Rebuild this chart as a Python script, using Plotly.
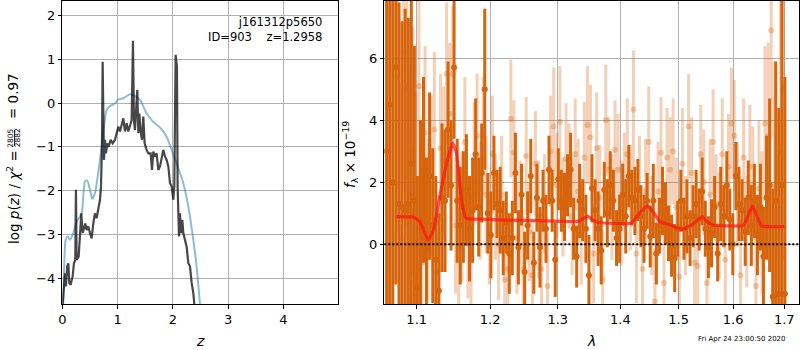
import plotly.graph_objects as go

# ---------------- Left panel: log p(z) ----------------
pz_z_dark = [0.0, 0.006, 0.030, 0.048, 0.066, 0.090, 0.109, 0.127, 0.151, 0.187, 0.211, 0.235, 0.247, 0.259,
             0.296, 0.320, 0.344, 0.368, 0.392, 0.416, 0.440, 0.471, 0.501, 0.531, 0.561, 0.591, 0.621, 0.652,
             0.682, 0.700, 0.718, 0.730, 0.742, 0.754, 0.772, 0.790, 0.814, 0.839, 0.875, 0.911, 0.953, 0.983,
             1.014, 1.044, 1.074, 1.104, 1.134, 1.164, 1.195, 1.225, 1.255, 1.279, 1.297, 1.315, 1.333, 1.357,
             1.376, 1.394, 1.418, 1.442, 1.466, 1.490, 1.526, 1.557, 1.599, 1.623, 1.647, 1.677, 1.707, 1.738,
             1.768, 1.798, 1.828, 1.858, 1.888, 1.919, 1.949, 1.979, 2.009, 2.027, 2.051, 2.075, 2.087, 2.112,
             2.130, 2.148, 2.172, 2.190, 2.220, 2.250, 2.281, 2.311, 2.341, 2.371, 2.389, 2.42]
pz_dark = [-5.0, -4.59, -4.19, -3.89, -4.19, -3.73, -3.66, -4.11, -4.15, -3.96, -3.66, -3.58, -1.98, -3.58,
           -3.51, -2.97, -2.52, -2.97, -2.82, -2.75, -2.90, -2.82, -2.97, -3.09, -2.75, -2.52, -2.63, -2.44,
           -2.21, -1.91, -1.00, 0.94, -0.77, -1.30, -0.84, -1.15, -0.92, -1.00, -0.84, -0.92, -0.84, -0.69,
           -0.54, -0.65, -0.46, -0.35, -0.65, -0.46, -0.65, -0.54, -0.39, 1.42, -0.39, -0.62, -0.16, 0.30,
           -0.69, -0.24, -0.65, -0.84, -0.31, -0.92, -1.07, -1.15, -1.15, -1.53, -1.11, -1.22, -1.15, -1.53,
           -1.45, -1.22, -1.07, -1.22, -1.30, -1.45, -1.83, -1.91, -2.21, -1.91, 1.10, 0.83, -1.91, -3.05,
           -2.52, -2.97, -2.67, -2.97, -3.13, -3.28, -3.66, -3.73, -4.11, -4.34, -4.59, -5.2]

pz_z_blue = [0.0, 0.018, 0.060, 0.097, 0.139, 0.199, 0.259, 0.350, 0.410, 0.452, 0.501, 0.543, 0.591, 0.682,
             0.754, 0.802, 0.863, 0.953, 1.014, 1.104, 1.225, 1.285, 1.406, 1.526, 1.647, 1.768, 1.888, 1.979,
             2.069, 2.190, 2.281, 2.371, 2.431, 2.492, 2.55]
pz_blue = [-5.2, -4.57, -3.13, -3.05, -3.12, -2.97, -2.71, -2.52, -1.79, -1.77, -1.98, -2.19, -2.06, -1.30,
           -0.54, -0.16, -0.07, -0.01, 0.08, 0.11, 0.20, 0.18, 0.07, -0.24, -0.43, -0.56, -0.77, -1.07,
           -1.38, -1.83, -2.37, -3.13, -3.73, -4.59, -5.3]

# ---------------- Right panel: spectrum ----------------
dark_wave = [1.0615, 1.0654, 1.0693,
             1.0732, 1.0772, 1.0811, 1.0851, 1.0891, 1.0930, 1.0970, 1.1009, 1.1049, 1.1089,
             1.1128, 1.1169, 1.1211, 1.1252, 1.1293, 1.1334, 1.1375, 1.1416, 1.1457, 1.1498,
             1.1540, 1.1582, 1.1625, 1.1667, 1.1710, 1.1753, 1.1795, 1.1838, 1.1880, 1.1923,
             1.1966, 1.2010, 1.2054, 1.2098, 1.2143, 1.2187, 1.2231, 1.2275, 1.2319, 1.2364,
             1.2408, 1.2454, 1.2500, 1.2545, 1.2591, 1.2637, 1.2683, 1.2729, 1.2775, 1.2820,
             1.2866, 1.2914, 1.2961, 1.3009, 1.3056, 1.3104, 1.3151, 1.3199, 1.3247, 1.3294,
             1.3341, 1.3390, 1.3440, 1.3489, 1.3538, 1.3588, 1.3637, 1.3686, 1.3736, 1.3785,
             1.3834, 1.3885, 1.3937, 1.3988, 1.4039, 1.4090, 1.4141, 1.4192, 1.4243, 1.4294,
             1.4345, 1.4398, 1.4451, 1.4504, 1.4557, 1.4610, 1.4663, 1.4716, 1.4769, 1.4822,
             1.4875, 1.4930, 1.4985, 1.5040, 1.5095, 1.5150, 1.5205, 1.5260, 1.5315, 1.5370,
             1.5425, 1.5482, 1.5539, 1.5596, 1.5653, 1.5710, 1.5767, 1.5824, 1.5881, 1.5938,
             1.5994, 1.6053, 1.6112, 1.6171, 1.6231, 1.6290, 1.6349, 1.6408, 1.6467, 1.6526,
             1.6585, 1.6646, 1.6707, 1.6768, 1.6829, 1.6890, 1.6951, 1.7012]
dark_flux = [3.0, 4.5, 2.0,
             5.7, 1.3, 1.2, 1.1, 1.3, 2.6, 1.4, -1.4, 0.8, 2.4,
             -0.1, 2.2, 0.6, -0.5, -1.5, 1.5, 1.4, 3.7, 1.9, 5.7,
             1.4, 0.6, 1.2, 1.75, 0.5, 1.1, 2.9, 1.2, 2.3, 5.0,
             1.0, 0.3, 2.3, 1.3, 1.1, 0.2, 0.7, -0.3, 0.2, 2.3,
             -0.1, 1.6, -0.9, 0.6, 2.2, -0.6, 1.5, -0.1, 1.4, 0.5,
             2.4, 1.4, -0.5, 2.1, 1.4, 1.2, 1.9, 2.4, 0.5, -0.4,
             1.4, 1.1, 0.5, -1.0, 1.8, 1.1, 0.5, -0.2, 1.75, 1.0,
             1.9, 1.4, 0.2, 0.5, 1.6, 0.9, 2.2, 1.5, 1.4, 1.75,
             0.9, 0.5, 1.4, 0.25, 1.4, -0.3, 0.6, 1.4, 1.0, 0.35,
             -0.05, -0.45, 0.5, 1.4, 0.5, 0.9, 0.2, 0.9, 1.3, 0.8,
             1.7, 0.5, -0.1, 0.35, 1.2, -0.3, 1.3, 0.9, 1.9, 0.8,
             0.0, 2.2, 1.3, 1.1, 0.4, 1.5, 0.6, 1.4, 0.3, 1.2,
             -0.4, 1.5, 1.9, -1.7, 1.4, -1.6, 1.9, -1.6]
dark_err = [8.0, 8.0, 8.0,
            7.0, 6.5, 6.0, 6.5, 6.0, 5.5, 5.0, 3.6, 3.2, 3.0,
            2.9, 2.7, 2.5, 2.7, 2.5, 2.4, 2.3, 2.2, 2.1, 2.3,
            2.0, 1.9, 1.8, 1.8, 1.7, 1.7, 1.8, 1.6, 1.6, 2.6,
            1.3, 1.4, 1.2, 1.1, 1.4, 1.2, 1.0, 1.3, 1.2, 1.3,
            1.2, 1.0, 1.3, 1.1, 1.2, 1.0, 1.1, 1.3, 1.0, 1.1,
            1.1, 1.0, 1.2, 1.0, 1.0, 1.1, 1.0, 1.2, 1.0, 1.0,
            1.2, 1.0, 1.1, 1.3, 1.1, 1.0, 1.2, 1.1, 0.9, 1.1,
            1.1, 1.0, 0.9, 1.1, 1.0, 1.2, 1.0, 0.9, 1.1, 1.0,
            1.0, 1.1, 0.9, 1.0, 1.2, 1.0, 0.9, 1.1, 1.0, 0.9,
            1.0, 1.1, 0.9, 1.0, 1.0, 1.2, 0.9, 1.0, 1.1, 1.0,
            1.1, 0.9, 1.0, 1.1, 1.0, 0.9, 1.2, 1.0, 1.1, 1.0,
            1.0, 1.1, 1.2, 1.0, 1.1, 1.2, 1.3, 1.2, 1.3, 1.4,
            1.6, 2.0, 2.8, 3.5, 4.5, 6.0, 6.5, 7.0]

light_wave = [1.0752, 1.0792, 1.0831, 1.0871, 1.0911, 1.0950, 1.0990, 1.1029, 1.1069, 1.1109,
              1.1149, 1.1190, 1.1232, 1.1273, 1.1314, 1.1355, 1.1396, 1.1437, 1.1478, 1.1519,
              1.1561, 1.1603, 1.1646, 1.1688, 1.1731, 1.1774, 1.1816, 1.1859, 1.1901, 1.1944,
              1.1988, 1.2032, 1.2076, 1.2120, 1.2165, 1.2209, 1.2253, 1.2297, 1.2341, 1.2386,
              1.2431, 1.2477, 1.2523, 1.2568, 1.2614, 1.2660, 1.2706, 1.2752, 1.2798, 1.2843,
              1.2890, 1.2938, 1.2985, 1.3033, 1.3080, 1.3128, 1.3175, 1.3223, 1.3271, 1.3318,
              1.3366, 1.3415, 1.3465, 1.3514, 1.3563, 1.3613, 1.3662, 1.3711, 1.3761, 1.3810,
              1.3860, 1.3911, 1.3963, 1.4014, 1.4065, 1.4116, 1.4167, 1.4218, 1.4269, 1.4320,
              1.4372, 1.4425, 1.4478, 1.4531, 1.4584, 1.4637, 1.4690, 1.4743, 1.4796, 1.4849,
              1.4903, 1.4958, 1.5013, 1.5068, 1.5123, 1.5178, 1.5233, 1.5288, 1.5343, 1.5398,
              1.5454, 1.5511, 1.5568, 1.5625, 1.5682, 1.5739, 1.5796, 1.5853, 1.5910, 1.5967,
              1.6024, 1.6083, 1.6142, 1.6201, 1.6261, 1.6320, 1.6379, 1.6438, 1.6497, 1.6556,
              1.6616, 1.6677, 1.6738, 1.6799, 1.6860, 1.6921, 1.6982]
light_flux = [5.4, 0.2, 6.2, 5.1, 1.6, 3.0, 1.4, 5.1, -0.6, 3.6,
              0.8, 2.2, 3.7, -0.9, 3.1, 2.7, 5.5, 4.2, 5.5, 0.6,
              -0.1, 0.9, 3.3, 0.25, -0.4, 2.6, 3.5, 1.4, 3.5, 1.6,
              0.5, 2.9, 1.2, 0.0, 1.6, -1.15, -0.8, 4.05, 2.95, 0.2,
              1.0, -0.8, 2.85, 0.4, -1.0, 2.6, 0.8, -0.8, 1.3, -1.35,
              3.0, 3.8, 1.9, 3.95, 1.2, 2.75, 2.2, 0.9, 2.9, 1.7,
              0.3, 2.8, 3.85, 3.45, -0.3, 3.1, 1.5, -1.15, 4.0, 2.4,
              1.2, 3.05, 2.4, 1.0, 2.0, 2.9, 1.5, 4.35, -0.3, 1.8,
              -0.8, 1.7, 3.3, 0.6, -1.85, 1.7, 2.95, -1.25, 2.8, 2.4,
              3.0, 1.2, -1.05, 2.6, 0.6, 3.8, 2.3, -0.6, -0.7, 2.9,
              2.0, -1.25, 1.6, 3.3, 1.3, 0.6, 2.9, -0.5, 2.5, 3.9,
              3.5, 1.6, -1.0, 2.8, 0.4, 2.5, 1.9, -1.35, 1.8, 0.7,
              3.9, 3.5, 6.9, 1.9, -1.6, 3.0, 5.0]
light_err = [5.0, 5.0, 4.5, 4.5, 4.0, 4.0, 3.5, 3.0, 2.8, 2.8,
             2.6, 2.6, 2.5, 2.5, 2.4, 2.4, 2.3, 2.3, 2.2, 2.2,
             2.2, 2.1, 2.1, 2.0, 2.0, 2.0, 2.0, 1.9, 1.9, 1.9,
             1.8, 1.9, 1.7, 1.8, 1.9, 1.6, 1.8, 1.9, 1.7, 1.8,
             1.7, 1.8, 1.9, 1.6, 1.8, 1.7, 1.9, 1.8, 1.6, 1.7,
             1.8, 1.9, 1.7, 1.8, 1.6, 1.8, 1.7, 1.9, 1.8, 1.7,
             1.6, 1.8, 1.9, 1.7, 1.6, 1.8, 1.7, 1.6, 1.8, 1.7,
             1.7, 1.6, 1.8, 1.7, 1.6, 1.8, 1.7, 1.9, 1.6, 1.7,
             1.6, 1.7, 1.8, 1.6, 1.7, 1.6, 1.8, 1.7, 1.6, 1.7,
             1.7, 1.6, 1.7, 1.8, 1.6, 1.7, 1.8, 1.6, 1.7, 1.6,
             1.7, 1.6, 1.8, 1.7, 1.6, 1.7, 1.8, 1.6, 1.7, 1.8,
             1.8, 1.7, 1.8, 1.9, 1.8, 2.0, 1.9, 2.1, 2.2, 2.3,
             2.5, 3.0, 3.5, 4.0, 4.5, 5.0, 5.5]

model_wave = [1.074, 1.096, 1.104, 1.115, 1.122, 1.1305, 1.1396, 1.148, 1.153, 1.160, 1.166, 1.185,
              1.223, 1.270, 1.332, 1.347, 1.355, 1.365, 1.418, 1.432, 1.446, 1.457, 1.467, 1.485,
              1.5057, 1.5236, 1.5426, 1.551, 1.562, 1.6195, 1.628, 1.637, 1.646, 1.6552, 1.700]
model_flux = [0.89, 0.87, 0.73, 0.14, 0.46, 1.54, 2.61, 3.26, 2.94, 1.43, 0.84, 0.81,
              0.78, 0.76, 0.74, 0.91, 0.78, 0.70, 0.68, 1.00, 1.24, 1.00, 0.73, 0.62,
              0.48, 0.62, 0.89, 0.73, 0.62, 0.61, 0.89, 1.24, 0.89, 0.59, 0.57]

left_xticks = [0, 1, 2, 3, 4]
left_yticks = [-4, -3, -2, -1, 0, 1, 2]
right_xticks = [1.1, 1.2, 1.3, 1.4, 1.5, 1.6, 1.7]
right_yticks = [0, 2, 4, 6]

FONT = "DejaVu Sans"
ORANGE = "rgb(214,100,12)"
ORANGE_L = "rgba(214,100,12,0.3)"

fig = go.Figure()

# left panel
fig.add_trace(go.Scatter(x=pz_z_blue, y=pz_blue, mode="lines", xaxis="x", yaxis="y",
                         line=dict(color="rgba(31,119,180,0.5)", width=2, shape="spline", smoothing=0.6),
                         showlegend=False, hoverinfo="skip"))
fig.add_trace(go.Scatter(x=pz_z_dark, y=pz_dark, mode="lines", xaxis="x", yaxis="y",
                         line=dict(color="rgba(0,0,0,0.72)", width=2.2),
                         showlegend=False, hoverinfo="skip"))

# right panel
fig.add_trace(go.Scatter(x=light_wave, y=light_flux, mode="markers", xaxis="x2", yaxis="y2",
                         marker=dict(color=ORANGE_L, size=6, line=dict(width=0)),
                         error_y=dict(type="data", array=light_err, visible=True, color=ORANGE_L,
                                      thickness=3, width=0),
                         showlegend=False, hoverinfo="skip"))
fig.add_trace(go.Scatter(x=dark_wave, y=dark_flux, mode="markers", xaxis="x2", yaxis="y2",
                         marker=dict(color=ORANGE, size=6, line=dict(width=0)),
                         error_y=dict(type="data", array=dark_err, visible=True, color=ORANGE,
                                      thickness=3, width=0),
                         showlegend=False, hoverinfo="skip"))
fig.add_trace(go.Scatter(x=model_wave, y=model_flux, mode="lines", xaxis="x2", yaxis="y2",
                         line=dict(color="rgba(255,20,20,0.72)", width=3.2, shape="spline", smoothing=0.4),
                         showlegend=False, hoverinfo="skip"))

fig.add_shape(type="line", xref="x2 domain", yref="y2", x0=0, x1=1, y0=0, y1=0,
              line=dict(color="black", width=2, dash="2px,2px"))

axis_common = dict(showline=True, linecolor="black", linewidth=1, mirror=True,
                   ticks="outside", ticklen=3.5, tickwidth=1, tickcolor="black",
                   showgrid=True, gridcolor="#b0b0b0", gridwidth=1, zeroline=False,
                   tickfont=dict(family=FONT, size=13, color="black"), automargin=False)

ydom = [46 / 350, 349 / 350]
fig.update_layout(
    width=800, height=350,
    margin=dict(l=0, r=0, t=0, b=0),
    paper_bgcolor="white", plot_bgcolor="white",
    font=dict(family=FONT, color="black"),
    xaxis=dict(domain=[62.3 / 800, 338.3 / 800], range=[0, 4.995], tickvals=left_xticks,
               anchor="y", **axis_common),
    yaxis=dict(domain=ydom, range=[-4.59, 2.33], tickvals=left_yticks, anchor="x", **axis_common),
    xaxis2=dict(domain=[384.3 / 800, 799.3 / 800], type="log", range=[0.02473, 0.23816],
                tickvals=right_xticks, ticktext=[str(v) for v in right_xticks],
                anchor="y2", **axis_common),
    yaxis2=dict(domain=ydom, range=[-1.93, 7.85], tickvals=right_yticks, anchor="x2", **axis_common),
)

def px(xp, yp):
    return xp / 800, (350 - yp) / 350

ann = []
# axis labels
x, y = px(200, 341)
ann.append(dict(x=x, y=y, text="<i>z</i>", font=dict(size=14, family=FONT)))
x, y = px(591.5, 341)
ann.append(dict(x=x, y=y, text="<i>λ</i>", font=dict(size=14, family=FONT)))
# left ylabel (composite with fraction); rotated text is positioned by its centre
x, y = px(13, 197)
ann.append(dict(x=x, y=y, text="log <i>p</i>(<i>z</i>) / <i>χ</i><sup>2</sup> =", textangle=-90,
                font=dict(size=13.5, family=FONT)))
x, y = px(10.8, 138)
ann.append(dict(x=x, y=y, text="2805", textangle=-90, font=dict(size=7.5, family=FONT)))
x, y = px(18.2, 138)
ann.append(dict(x=x, y=y, text="2882", textangle=-90, font=dict(size=7.5, family=FONT)))
x, y = px(13, 96)
ann.append(dict(x=x, y=y, text="= 0.97", textangle=-90, font=dict(size=13.5, family=FONT)))
# right ylabel
x, y = px(350, 155)
ann.append(dict(x=x, y=y, text="<i>f</i><sub>λ</sub> × 10<sup>−19</sup>", textangle=-90,
                font=dict(size=13.5, family=FONT)))
# object text
x, y = px(324, 12.5)
ann.append(dict(x=x, y=y, text="j161312p5650<br>ID=903\u00a0\u00a0\u00a0\u00a0z=1.2958", xanchor="right",
                yanchor="top", align="right", font=dict(size=11.5, family=FONT)))
# timestamp
x, y = px(788, 339)
ann.append(dict(x=x, y=y, text="Fri Apr 24 23:00:50 2020", xanchor="right", font=dict(size=7, family=FONT)))

for a in ann:
    a.setdefault("xanchor", "center")
    a.setdefault("yanchor", "middle")
    fig.add_annotation(xref="paper", yref="paper", showarrow=False, **a)

# fraction bar
fig.add_shape(type="line", xref="paper", yref="paper",
              x0=14.5 / 800, x1=14.5 / 800, y0=(350 - 130) / 350, y1=(350 - 146) / 350,
              line=dict(color="black", width=0.8))

fig.write_html("out.html", config={"displayModeBar": False})
